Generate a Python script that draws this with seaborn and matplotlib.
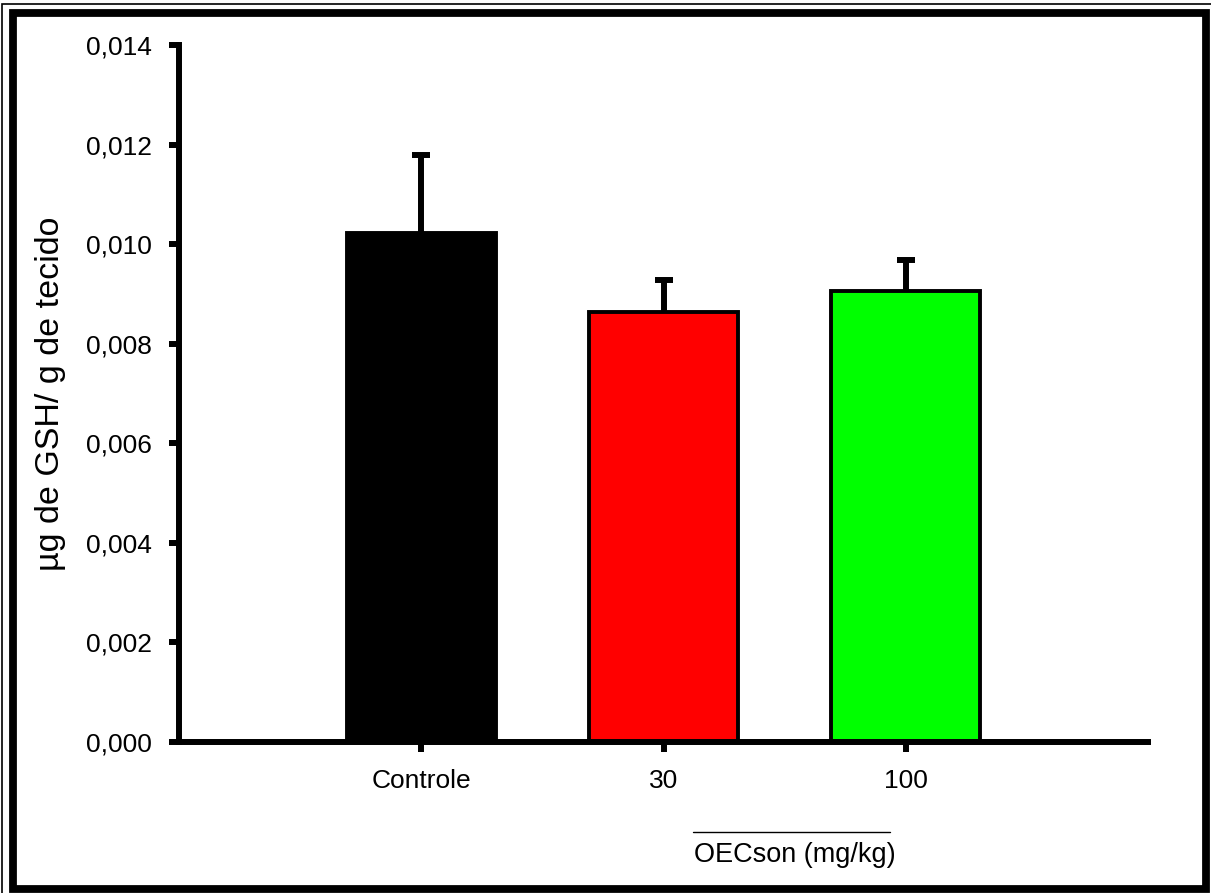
import matplotlib
matplotlib.use("Agg")
import matplotlib.pyplot as plt
from matplotlib.patches import Rectangle
import numpy as np
import seaborn as sns
import pandas as pd

# Glutathione content per group (mean and SEM)
groups = ["Controle", "30", "100"]
gsh_mean = [0.01023, 0.00864, 0.00906]
gsh_sem = [0.00156, 0.00064, 0.00062]
bar_colors = ["#000000", "#ff0000", "#00ff00"]
y_ticks = [0.000, 0.002, 0.004, 0.006, 0.008, 0.010, 0.012, 0.014]
y_label = "µg de GSH/ g de tecido"
x_label = "OECson (mg/kg)"

sns.set_theme(style="white")
plt.rcParams["font.family"] = ["Liberation Sans", "DejaVu Sans"]

df = pd.DataFrame({"grupo": groups, "gsh": gsh_mean})

fig = plt.figure(figsize=(12.11, 8.93), dpi=100)
ax = fig.add_axes([0.1478, 0.1691, 0.8002, 0.7805])

sns.barplot(data=df, x="grupo", y="gsh", hue="grupo", palette=bar_colors,
            order=groups, hue_order=groups, width=0.615, edgecolor="black",
            linewidth=2.8, errorbar=None, legend=False, ax=ax, saturation=1)

# Upper-only SEM bars
eb = ax.errorbar(x=range(len(groups)), y=gsh_mean,
                 yerr=[[0] * len(groups), gsh_sem], fmt="none", ecolor="black",
                 elinewidth=4.3, capsize=6.8, capthick=4.3, zorder=1)
for cap in eb.lines[1]:
    if np.allclose(cap.get_ydata(), gsh_mean):
        cap.set_visible(False)

ax.set_xlim(-1, 3)
ax.set_ylim(0, 0.014)
ax.set_yticks(y_ticks)
ax.set_yticklabels([f"{v:.3f}".replace(".", ",") for v in y_ticks])

for side in ("top", "right"):
    ax.spines[side].set_visible(False)
for side in ("left", "bottom"):
    ax.spines[side].set_linewidth(4.3)
    ax.spines[side].set_color("black")

ax.tick_params(axis="both", which="major", direction="out", length=7.5,
               width=4.3, color="black", labelsize=19, labelcolor="black",
               left=True, bottom=True)
ax.tick_params(axis="x", pad=12)
ax.tick_params(axis="y", pad=12)
ax.set_xlabel("")
ax.set_ylabel(y_label, fontsize=24.5, color="black", labelpad=14)
ax.grid(False)

# Group caption below the axis, with a rule above it
fig.text(0.6565, 0.0425, x_label, ha="center", va="center", fontsize=19.5,
         color="black")
fig.add_artist(plt.Line2D([693 / 1211, 890 / 1211], [1 - 832 / 893, 1 - 832 / 893],
                          transform=fig.transFigure, color="black", lw=1.0))

# Double frame around the figure
fig.add_artist(Rectangle((1.5 / 1211, -0.01), 1.02, 1 - 3.5 / 893 + 0.01,
                         transform=fig.transFigure, fill=False,
                         edgecolor="black", lw=1.2))
fig.add_artist(Rectangle((13 / 1211, 4.5 / 893), (1205.5 - 13) / 1211,
                         (888.5 - 12.8) / 893, transform=fig.transFigure,
                         fill=False, edgecolor="black", lw=5.6))

fig.savefig("out.png", dpi=100, facecolor="white")
